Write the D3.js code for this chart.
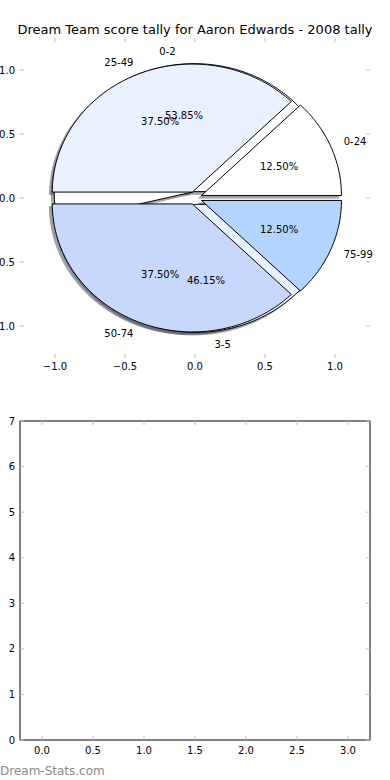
<!DOCTYPE html>
<html>
<head>
<meta charset="utf-8">
<script src="https://cdnjs.cloudflare.com/ajax/libs/d3/7.8.5/d3.min.js"></script>
<style>
  body { margin: 0; background: #fff; }
  svg text { font-family: "DejaVu Sans", sans-serif; fill: #000; }
</style>
</head>
<body>
<div class="chart_frame"></div>
<script>
// data
var titleText = "Dream Team score tally for Aaron Edwards - 2008 tally";
var tallyLabels = ["0-24", "25-49", "50-74", "75-99"];
var tallyValues = [1, 3, 3, 1];
var scoreLabels = ["0-2", "3-5"];
var scoreValues = [7, 6];
var pieColors = ["#ffffff", "#e9f0fe", "#c6d8fc", "#b3d4ff"];
var pieTicks = [-1.0, -0.5, 0.0, 0.5, 1.0];
var barXTicks = [0.0, 0.5, 1.0, 1.5, 2.0, 2.5, 3.0];
var barYTicks = [0, 1, 2, 3, 4, 5, 6, 7];

var width = 390, height = 780;
var explode = 0.05, shadowOff = -0.02;

var svg = d3.select('.chart_frame').append('svg')
    .attr('width', width)
    .attr('height', height);

var fmtTick = function(v) { return d3.format('.1f')(v).replace('-', '\u2212'); };

// ---------- top: pie axes ----------
var px = d3.scaleLinear().domain([-1.25, 1.25]).range([20, 370]),
    py = d3.scaleLinear().domain([-1.25, 1.25]).range([358, 38]);

svg.append('text')
    .attr('x', 195).attr('y', 34)
    .attr('text-anchor', 'middle')
    .style('font-size', '13px')
    .text(titleText);

var tickColor = '#bdbdbd';
var topAx = svg.append('g').attr('class', 'pie_axes');
pieTicks.forEach(function(t) {
    // x ticks top & bottom, pointing in
    topAx.append('line').attr('x1', px(t)).attr('x2', px(t)).attr('y1', py(1.25)).attr('y2', py(1.25) + 4)
        .attr('stroke', tickColor);
    topAx.append('line').attr('x1', px(t)).attr('x2', px(t)).attr('y1', py(-1.25)).attr('y2', py(-1.25) - 4)
        .attr('stroke', tickColor);
    // y ticks left & right
    topAx.append('line').attr('x1', px(-1.25)).attr('x2', px(-1.25) + 4).attr('y1', py(t)).attr('y2', py(t))
        .attr('stroke', tickColor);
    topAx.append('line').attr('x1', px(1.25)).attr('x2', px(1.25) - 4).attr('y1', py(t)).attr('y2', py(t))
        .attr('stroke', tickColor);
    topAx.append('text').attr('x', px(t)).attr('y', py(-1.25) + 12)
        .attr('text-anchor', 'middle').style('font-size', '10px').text(fmtTick(t));
    topAx.append('text').attr('x', px(-1.25) - 5).attr('y', py(t) + 3.5)
        .attr('text-anchor', 'end').style('font-size', '10px').text(fmtTick(t));
});

var pieGen = d3.pie().sort(null);
// d3 angles used as counter-clockwise radians from +x (matplotlib style)
function wedges(values, labels) {
    return pieGen(values).map(function(d, i) {
        var mid = (d.startAngle + d.endAngle) / 2;
        return {
            a0: d.startAngle, a1: d.endAngle, mid: mid,
            cx: explode * Math.cos(mid), cy: explode * Math.sin(mid),
            label: labels[i], color: pieColors[i % pieColors.length],
            pct: d.value / d3.sum(values) * 100
        };
    });
}
var scoreWedges = wedges(scoreValues, scoreLabels),
    tallyWedges = wedges(tallyValues, tallyLabels);

var line = d3.line().x(function(p) { return px(p[0]); }).y(function(p) { return py(p[1]); });
function wedgePath(w, ox, oy) {
    var n = Math.max(8, Math.ceil((w.a1 - w.a0) / 0.02));
    var pts = [[w.cx + ox, w.cy + oy]];
    d3.range(n + 1).forEach(function(k) {
        var a = w.a0 + (w.a1 - w.a0) * k / n;
        pts.push([w.cx + ox + Math.cos(a), w.cy + oy + Math.sin(a)]);
    });
    return line(pts) + 'Z';
}
function darker(c) {
    var r = d3.rgb(c);
    return d3.rgb(r.r * 0.3, r.g * 0.3, r.b * 0.3).toString();
}

var pieG = svg.append('g').attr('class', 'pies');
// shadows first, then score pie, then tally pie on top
scoreWedges.concat(tallyWedges).forEach(function(w) {
    pieG.append('path').attr('d', wedgePath(w, shadowOff, shadowOff))
        .attr('fill', darker(w.color)).attr('stroke', darker(w.color))
        .attr('opacity', 0.5);
});
scoreWedges.concat(tallyWedges).forEach(function(w) {
    pieG.append('path').attr('d', wedgePath(w, 0, 0))
        .attr('fill', w.color).attr('stroke', '#000').attr('stroke-width', 1)
        .attr('stroke-linejoin', 'miter');
});
scoreWedges.concat(tallyWedges).forEach(function(w) {
    var lx = w.cx + 1.1 * Math.cos(w.mid), ly = w.cy + 1.1 * Math.sin(w.mid);
    pieG.append('text').attr('x', px(lx)).attr('y', py(ly) + 3.5)
        .attr('text-anchor', lx > 0 ? 'start' : 'end')
        .style('font-size', '10px').text(w.label);
    var tx = w.cx + 0.6 * Math.cos(w.mid), ty = w.cy + 0.6 * Math.sin(w.mid);
    pieG.append('text').attr('x', px(tx)).attr('y', py(ty) + 3.5)
        .attr('text-anchor', 'middle')
        .style('font-size', '10px').text(d3.format('.2f')(w.pct) + '%');
});

// ---------- bottom: empty axes ----------
var bx = d3.scaleLinear().domain([-0.2157, 3.2157]).range([20, 370]),
    by = d3.scaleLinear().domain([0, 7]).range([740, 421]);

var botAx = svg.append('g').attr('class', 'bar_axes');
botAx.append('rect')
    .attr('x', bx.range()[0]).attr('y', by.range()[1])
    .attr('width', bx.range()[1] - bx.range()[0])
    .attr('height', by.range()[0] - by.range()[1])
    .attr('fill', 'none').attr('stroke', '#000').attr('stroke-width', 1);

barXTicks.forEach(function(t) {
    botAx.append('line').attr('x1', bx(t)).attr('x2', bx(t)).attr('y1', 740).attr('y2', 736).attr('stroke', tickColor);
    botAx.append('line').attr('x1', bx(t)).attr('x2', bx(t)).attr('y1', 421).attr('y2', 425).attr('stroke', tickColor);
    botAx.append('text').attr('x', bx(t)).attr('y', 754)
        .attr('text-anchor', 'middle').style('font-size', '10px').text(d3.format('.1f')(t));
});
barYTicks.forEach(function(t) {
    botAx.append('line').attr('x1', 20).attr('x2', 24).attr('y1', by(t)).attr('y2', by(t)).attr('stroke', tickColor);
    botAx.append('line').attr('x1', 370).attr('x2', 366).attr('y1', by(t)).attr('y2', by(t)).attr('stroke', tickColor);
    botAx.append('text').attr('x', 15).attr('y', by(t) + 3.5)
        .attr('text-anchor', 'end').style('font-size', '10px').text(t);
});

svg.append('text')
    .attr('x', 0).attr('y', 775)
    .style('font-size', '12px')
    .style('fill', '#8a8a8a')
    .text('Dream-Stats.com');
</script>
</body>
</html>
